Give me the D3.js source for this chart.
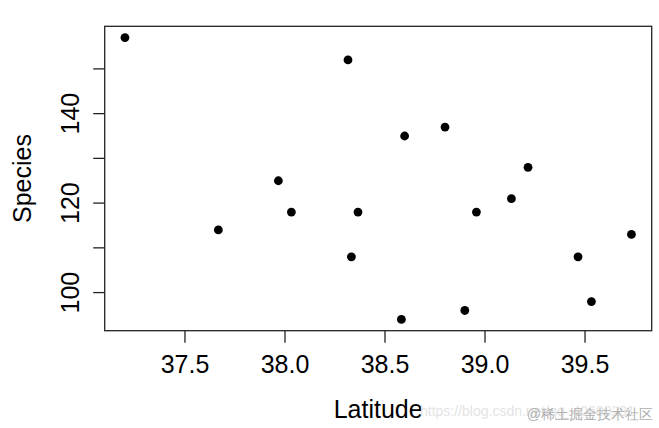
<!DOCTYPE html>
<html>
<head>
<meta charset="utf-8">
<script src="https://cdn.jsdelivr.net/npm/d3@7"></script>
<style>
  html, body { margin: 0; padding: 0; background: #fff; }
  svg { display: block; }
  text { font-family: "Liberation Sans", Arial, sans-serif; }
</style>
</head>
<body>
<svg id="chart" width="659" height="428"></svg>
<script>
const latitude = [37.20, 38.315, 38.80, 38.598, 39.215, 37.967, 39.132, 38.032, 38.365, 38.957, 37.667, 39.732, 38.332, 39.465, 39.532, 38.899, 38.582];
const species  = [157, 152, 137, 135, 128, 125, 121, 118, 118, 118, 114, 113, 108, 108, 98, 96, 94];
const xTicks = [37.5, 38.0, 38.5, 39.0, 39.5];
const yTicks = [100, 110, 120, 130, 140, 150];
const yLabels = [100, 120, 140];
const xTitle = "Latitude";
const yTitle = "Species";

(function () {
const svg = d3.select("#chart");
const pL = 104.7, pR = 651.7, pT = 26.3, pB = 330.7;

function ext(arr) {
  const [a, b] = d3.extent(arr);
  const d = (b - a) * 0.04;
  return [a - d, b + d];
}
const x = d3.scaleLinear().domain(ext(latitude)).range([pL, pR]);
const y = d3.scaleLinear().domain(ext(species)).range([pB, pT]);

const ink = "#222";

// box
svg.append("rect")
  .attr("x", pL).attr("y", pT)
  .attr("width", pR - pL).attr("height", pB - pT)
  .attr("fill", "none").attr("stroke", ink).attr("stroke-width", 1.3);

// x axis ticks
const xAxis = svg.append("g");
xAxis.selectAll("line").data(xTicks).join("line")
  .attr("x1", d => x(d)).attr("x2", d => x(d))
  .attr("y1", pB).attr("y2", pB + 12)
  .attr("stroke", ink).attr("stroke-width", 1.3);
xAxis.selectAll("text").data(xTicks).join("text")
  .attr("x", d => x(d)).attr("y", 372.7)
  .attr("text-anchor", "middle")
  .attr("font-size", 25)
  .attr("fill", "#000")
  .text(d => d3.format(".1f")(d));

// y axis ticks
const yAxis = svg.append("g");
yAxis.selectAll("line").data(yTicks).join("line")
  .attr("x1", pL - 11.5).attr("x2", pL)
  .attr("y1", d => y(d)).attr("y2", d => y(d))
  .attr("stroke", ink).attr("stroke-width", 1.3);
yAxis.selectAll("text").data(yLabels).join("text")
  .attr("transform", d => `translate(79.3,${y(d)}) rotate(-90)`)
  .attr("text-anchor", "middle")
  .attr("font-size", 25)
  .attr("fill", "#000")
  .text(d => d);

// titles
svg.append("text")
  .attr("x", (pL + pR) / 2).attr("y", 418.3)
  .attr("text-anchor", "middle")
  .attr("font-size", 25)
  .attr("fill", "#000")
  .text(xTitle);
svg.append("text")
  .attr("transform", `translate(31,${(pT + pB) / 2}) rotate(-90)`)
  .attr("text-anchor", "middle")
  .attr("font-size", 25)
  .attr("fill", "#000")
  .text(yTitle);

// points
svg.append("g").selectAll("circle")
  .data(latitude.map((d, i) => [d, species[i]]))
  .join("circle")
  .attr("cx", d => x(d[0])).attr("cy", d => y(d[1]))
  .attr("r", 4.4)
  .attr("fill", "#000");

// watermarks
svg.append("text")
  .attr("x", 420).attr("y", 416)
  .attr("font-size", 14)
  .attr("fill", "#e4e4e4")
  .text("https://blog.csdn.net/qq_40600291");
svg.append("text")
  .attr("x", 653).attr("y", 419)
  .attr("text-anchor", "end")
  .attr("font-size", 14)
  .attr("font-family", "Noto Sans CJK SC")
  .attr("fill", "#b0b0b0")
  .text("@稀土掘金技术社区");
})();
</script>
</body>
</html>
